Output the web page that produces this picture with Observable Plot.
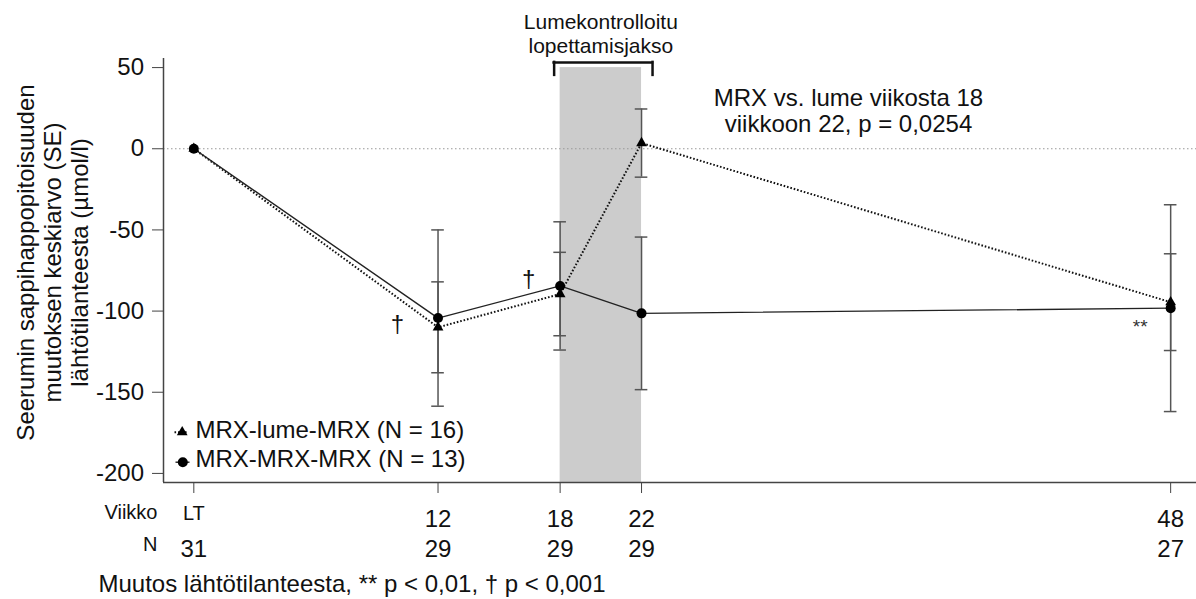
<!DOCTYPE html>
<html>
<head>
<meta charset="utf-8">
<script src="https://cdn.jsdelivr.net/npm/d3@7"></script>
<script src="https://cdn.jsdelivr.net/npm/@observablehq/plot@0.6"></script>
<style>
  html, body { margin: 0; padding: 0; background: #fff; }
</style>
</head>
<body>
<div id="chart"></div>
<script>
// ---- Data ----
const weeks = [0, 12, 18, 22, 48];
const weekLabels = ["LT", "12", "18", "22", "48"];
const nPatients = [31, 29, 29, 29, 27];
const seriesNames = ["MRX-lume-MRX (N = 16)", "MRX-MRX-MRX (N = 13)"];
const placeboMean = [0, -110, -89.5, 3.5, -94.5];   // triangles, dotted
const placeboSE   = [0, 28, 25.7, 21, 29.8];
const mrxMean     = [0, -104.3, -84.5, -101.4, -98.2]; // circles, solid
const mrxSE       = [0, 54.3, 39.5, 47, 63.7];
const yTicks = [50, 0, -50, -100, -150, -200];
const withdrawalPeriod = [{start: 18, end: 22}];
const periodLabel = "Lumekontrolloitu\nlopettamisjakso";
const comparisonLabel = "MRX vs. lume viikosta 18\nviikkoon 22, p = 0,0254";
const yLabel = "Seerumin sappihappopitoisuuden\nmuutoksen keskiarvo (SE)\nlähtötilanteesta (µmol/l)";
const footnote = "Muutos lähtötilanteesta, ** p < 0,01, † p < 0,001";
const significance = [
  {week: 10.0, value: -108, mark: "†"},
  {week: 16.46, value: -80.6, mark: "†"}
];
const significance2 = [{week: 46.5, value: -110, mark: "**"}];

// ---- Derived tables ----
const rows = [];
weeks.forEach((w, i) => {
  rows.push({series: seriesNames[0], week: w, mean: placeboMean[i], se: placeboSE[i]});
  rows.push({series: seriesNames[1], week: w, mean: mrxMean[i], se: mrxSE[i]});
});
const placeboRows = rows.filter(d => d.series === seriesNames[0]);
const mrxRows = rows.filter(d => d.series === seriesNames[1]);
const bars = rows.filter(d => d.se > 0);
const caps = bars.flatMap(d => [{week: d.week, y: d.mean - d.se}, {week: d.week, y: d.mean + d.se}]);
const nRows = weeks.map((w, i) => ({week: w, n: nPatients[i]}));

const xDomain = [-1.49, 49.27];
const yDomain = [-205.6, 55.6];
const font = "'Liberation Sans', Arial, Helvetica, sans-serif";
const ink = "#111";
const axisInk = "#444";
const dotted = "1.6,1.9";

const segment = {draw(ctx) { ctx.moveTo(-7, 0); ctx.lineTo(7, 0); }};

const chart = Plot.plot({
  width: 1196,
  height: 599,
  marginLeft: 163,
  marginRight: 0,
  marginTop: 58,
  marginBottom: 117,
  style: {fontFamily: font, color: ink, background: "#fff"},
  x: {domain: xDomain},
  y: {domain: yDomain},
  marks: [
    // shaded withdrawal period
    Plot.rect(withdrawalPeriod, {x1: "start", x2: "end", y1: yDomain[0], y2: 50, fill: "#cccccc"}),
    // zero reference
    Plot.ruleY([0], {stroke: "#999", strokeWidth: 1.2, strokeDasharray: "1.5,2.5"}),
    // error bars
    Plot.ruleX(bars, {x: "week", y1: d => d.mean - d.se, y2: d => d.mean + d.se, stroke: "#555", strokeWidth: 1.5}),
    Plot.ruleY(caps, {y: "y", x1: "week", x2: "week", insetLeft: -6.3, insetRight: -6.3, stroke: "#555", strokeWidth: 1.5}),
    // lines
    Plot.line(placeboRows, {x: "week", y: "mean", stroke: "#111", strokeWidth: 2, strokeDasharray: dotted, strokeLinecap: "butt"}),
    Plot.line(mrxRows, {x: "week", y: "mean", stroke: "#222", strokeWidth: 1.4}),
    // markers
    Plot.dot(placeboRows, {x: "week", y: "mean", symbol: "triangle", r: 4, fill: "#000", stroke: "none"}),
    Plot.dot(mrxRows, {x: "week", y: "mean", symbol: "circle", r: 5, fill: "#000", stroke: "none"}),
    // axis lines
    Plot.ruleX([xDomain[0]], {stroke: axisInk, strokeWidth: 1.5}),
    Plot.ruleY([yDomain[0]], {stroke: axisInk, strokeWidth: 1.5}),
    // axes
    Plot.axisY({ticks: yTicks, tickFormat: d => String(d), tickSize: 11, tickPadding: 8.5, fontSize: 24,
                stroke: axisInk, fill: ink, label: null}),
    Plot.axisX({ticks: weeks, tickFormat: w => (w === 0 ? "" : weekLabels[weeks.indexOf(w)]),
                tickSize: 11, tickPadding: 16, fontSize: 24, stroke: axisInk, fill: ink, label: null}),
    Plot.text([weekLabels[0]], {x: weeks[0], frameAnchor: "bottom", dy: 37, lineAnchor: "bottom", fontSize: 20, fill: ink}),
    Plot.text(["Viikko"], {frameAnchor: "bottom-left", dx: -6, dy: 36.3, textAnchor: "end", lineAnchor: "bottom", fontSize: 20, fill: ink}),
    Plot.text(["N"], {frameAnchor: "bottom-left", dx: -6, dy: 68.7, textAnchor: "end", lineAnchor: "bottom", fontSize: 20, fill: ink}),
    Plot.text(nRows, {x: "week", text: d => String(d.n), frameAnchor: "bottom", dy: 74.5, lineAnchor: "bottom", fontSize: 24, fill: ink}),
    Plot.text([footnote], {frameAnchor: "bottom-left", dx: -65, dy: 109, textAnchor: "start", lineAnchor: "bottom", fontSize: 24, fill: ink}),
    // y label
    Plot.text([yLabel], {frameAnchor: "left", dx: -111.6, dy: -8, rotate: -90, textAnchor: "middle", lineAnchor: "middle", lineHeight: 1.125, fontSize: 24, fill: ink}),
    // bracket and period label
    Plot.ruleY([53.2], {x1: withdrawalPeriod[0].start, x2: withdrawalPeriod[0].end, insetLeft: -6, insetRight: -11, stroke: "#111", strokeWidth: 2.5, strokeLinecap: "square"}),
    Plot.ruleX([withdrawalPeriod[0].start], {y1: 45.2, y2: 53.2, dx: -6, stroke: "#111", strokeWidth: 2.5, strokeLinecap: "square"}),
    Plot.ruleX([withdrawalPeriod[0].end], {y1: 45.2, y2: 53.2, dx: 11, stroke: "#111", strokeWidth: 2.5, strokeLinecap: "square"}),
    Plot.text([periodLabel], {x: (withdrawalPeriod[0].start + withdrawalPeriod[0].end) / 2, frameAnchor: "top", dy: -5.3,
                              lineAnchor: "bottom", lineHeight: 1.17, fontSize: 21, fill: ink}),
    Plot.text([comparisonLabel], {x: 32.17, y: 10.2, lineAnchor: "bottom", lineHeight: 1.11, fontSize: 24, fill: ink}),
    // significance marks
    Plot.text(significance, {x: "week", y: "value", text: "mark", fontSize: 24, fill: ink}),
    Plot.text(significance2, {x: "week", y: "value", text: "mark", fontSize: 19, fill: "#333"}),
    // legend
    Plot.dot([seriesNames[0]], {frameAnchor: "bottom-left", dx: 18, dy: -50.3, symbol: segment, r: 5, fill: "none", stroke: "#111", strokeWidth: 2, strokeDasharray: dotted, strokeLinecap: "butt"}),
    Plot.dot([seriesNames[0]], {frameAnchor: "bottom-left", dx: 18.7, dy: -50.3, symbol: "triangle", r: 4, fill: "#000", stroke: "none"}),
    Plot.dot([seriesNames[1]], {frameAnchor: "bottom-left", dx: 19, dy: -20.3, symbol: segment, r: 5, fill: "none", stroke: "#222", strokeWidth: 1.4}),
    Plot.dot([seriesNames[1]], {frameAnchor: "bottom-left", dx: 19.3, dy: -20.3, symbol: "circle", r: 5, fill: "#000", stroke: "none"}),
    Plot.text([seriesNames[0]], {frameAnchor: "bottom-left", dx: 32, dy: -45, textAnchor: "start", lineAnchor: "bottom", fontSize: 24, fill: ink}),
    Plot.text([seriesNames[1]], {frameAnchor: "bottom-left", dx: 32, dy: -15.5, textAnchor: "start", lineAnchor: "bottom", fontSize: 24, fill: ink})
  ]
});
document.getElementById("chart").appendChild(chart);
</script>
</body>
</html>
